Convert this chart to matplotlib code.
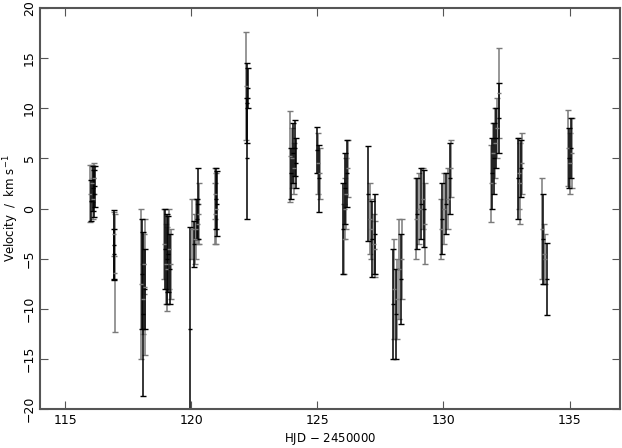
import matplotlib.pyplot as plt

# black series: HJD-2450000, velocity, error
hjd_a = [116.02, 116.10, 116.14, 116.18,
         116.92, 116.95,
         118.05, 118.10, 118.15,
         118.95, 119.02, 119.08, 119.14,
         119.95, 120.10, 120.22, 120.28,
         120.97, 121.00,
         122.20, 122.22, 122.24,
         123.96, 124.04, 124.12, 124.16,
         125.00, 125.08,
         126.00, 126.10, 126.18,
         127.00, 127.18, 127.28,
         127.98, 128.10, 128.30,
         128.96, 129.10, 129.24,
         129.96, 130.10, 130.24,
         131.94, 132.02, 132.10, 132.20,
         132.94, 133.08,
         133.96, 134.10,
         134.96, 135.06]
vel_a = [0.8, 2.0, 1.5, 2.2,
         -3.6, -4.5,
         -6.5, -10.5, -8.0,
         -4.0, -5.0, -4.5, -6.0,
         -12.0, -3.5, -1.0, 0.5,
         1.0, 0.5,
         10.5, 5.0, 12.0,
         3.5, 5.5, 6.0, 4.5,
         5.8, 3.0,
         -2.0, 2.0, 3.5,
         1.5, -3.0, -2.5,
         -9.5, -10.5, -7.0,
         -0.5, 0.5, 0.0,
         -1.0, 0.5, 3.0,
         3.5, 5.0, 7.0, 9.0,
         3.0, 4.0,
         -3.0, -7.0,
         5.0, 6.0]
err_a = [2.0, 2.2, 2.3, 2.0,
         3.5, 2.5,
         5.5, 8.2, 4.0,
         4.0, 4.5, 3.8, 3.5,
         10.2, 2.3, 2.0, 3.5,
         3.0, 3.2,
         4.0, 6.0, 2.0,
         2.5, 3.0, 2.8, 2.5,
         2.3, 3.3,
         4.5, 3.5, 3.3,
         4.7, 3.8, 4.0,
         5.5, 4.5, 4.5,
         3.5, 3.5, 3.8,
         3.5, 3.0, 3.5,
         3.5, 3.5, 3.0, 3.5,
         4.0, 2.8,
         4.5, 3.6,
         3.0, 3.0]

# grey series
hjd_b = [115.98, 116.06, 116.12, 116.16,
         116.94, 116.97,
         118.02, 118.08, 118.12, 118.18,
         118.92, 118.98, 119.05, 119.12, 119.18,
         120.02, 120.14, 120.18, 120.25, 120.30,
         120.92, 120.95, 120.99,
         122.18,
         123.92, 124.00, 124.08,
         125.04, 125.10,
         126.04, 126.08, 126.14, 126.20,
         127.08, 127.14, 127.24, 127.30,
         128.04, 128.16, 128.22, 128.34,
         128.92, 129.04, 129.18, 129.28,
         129.92, 130.04, 130.16, 130.28,
         131.90, 131.98, 132.06, 132.14, 132.22,
         132.98, 133.04, 133.10,
         133.92, 134.00, 134.04,
         134.92, 135.00, 135.08]
vel_b = [1.5, 2.5, 1.0, 3.0,
         -2.5, -6.4,
         -7.5, -9.0, -5.5, -7.8,
         -3.5, -5.5, -6.0, -4.0, -5.5,
         -2.0, -3.0, -2.0, -1.5, -0.5,
         -0.5, 1.5, 0.0,
         12.2,
         5.2, 5.0, 4.0,
         4.5, 3.5,
         -3.0, 0.0, 1.5, 4.0,
         -1.0, -2.0, -3.5, -4.0,
         -8.0, -9.0, -6.0, -5.0,
         -1.0, 0.0, 1.0, -1.5,
         -2.0, 0.0, 1.0, 4.0,
         2.5, 5.5, 6.5, 8.0, 11.5,
         3.5, 2.5, 4.5,
         -2.0, -4.5, -5.0,
         6.0, 4.5, 5.5]
err_b = [2.8, 1.8, 2.0, 1.5,
         2.2, 5.9,
         7.5, 3.5, 3.0, 6.8,
         3.5, 4.0, 4.2, 4.0, 3.5,
         3.0, 2.5, 3.0, 2.0, 3.0,
         3.0, 2.5, 3.5,
         5.4,
         4.5, 3.0, 2.5,
         3.0, 2.5,
         3.5, 3.0, 3.5, 2.8,
         3.5, 3.0, 3.0, 2.8,
         5.0, 4.0, 5.0, 4.0,
         4.0, 3.5, 3.0, 4.0,
         3.0, 3.5, 3.0, 2.8,
         3.8, 3.0, 3.5, 3.0, 4.5,
         3.5, 4.0, 3.0,
         5.0, 3.0, 2.5,
         3.8, 3.0, 3.5]

fig = plt.figure(figsize=(6.22, 4.48), dpi=100)
ax = fig.add_axes([0.0643, 0.087, 0.9325, 0.895])

ax.errorbar(hjd_b, vel_b, yerr=err_b, fmt='_', color='#7a7a7a', ms=3,
            elinewidth=1.1, capsize=2, capthick=1)
ax.errorbar(hjd_a, vel_a, yerr=err_a, fmt='_', color='black', ms=3,
            elinewidth=1.1, capsize=2, capthick=1)

ax.set_xlim(114, 137)
ax.set_ylim(-20, 20)
ax.set_xticks([115, 120, 125, 130, 135])
ax.set_yticks([-20, -15, -10, -5, 0, 5, 10, 15, 20])
ax.tick_params(direction='in', top=True, right=True, length=6,
               labelsize=9, color='#555555')
ax.tick_params(axis='y', pad=3)
for lab in ax.get_yticklabels():
    lab.set_rotation(90)
    lab.set_va('center')
for s in ax.spines.values():
    s.set_color('#555555')
    s.set_linewidth(1.5)

ax.set_xlabel('HJD $-$ 2450000', fontsize=8.5, labelpad=3)
ax.set_ylabel('Velocity  /  km s$^{-1}$', fontsize=8.5, labelpad=1)

fig.savefig('out.png', dpi=100)
